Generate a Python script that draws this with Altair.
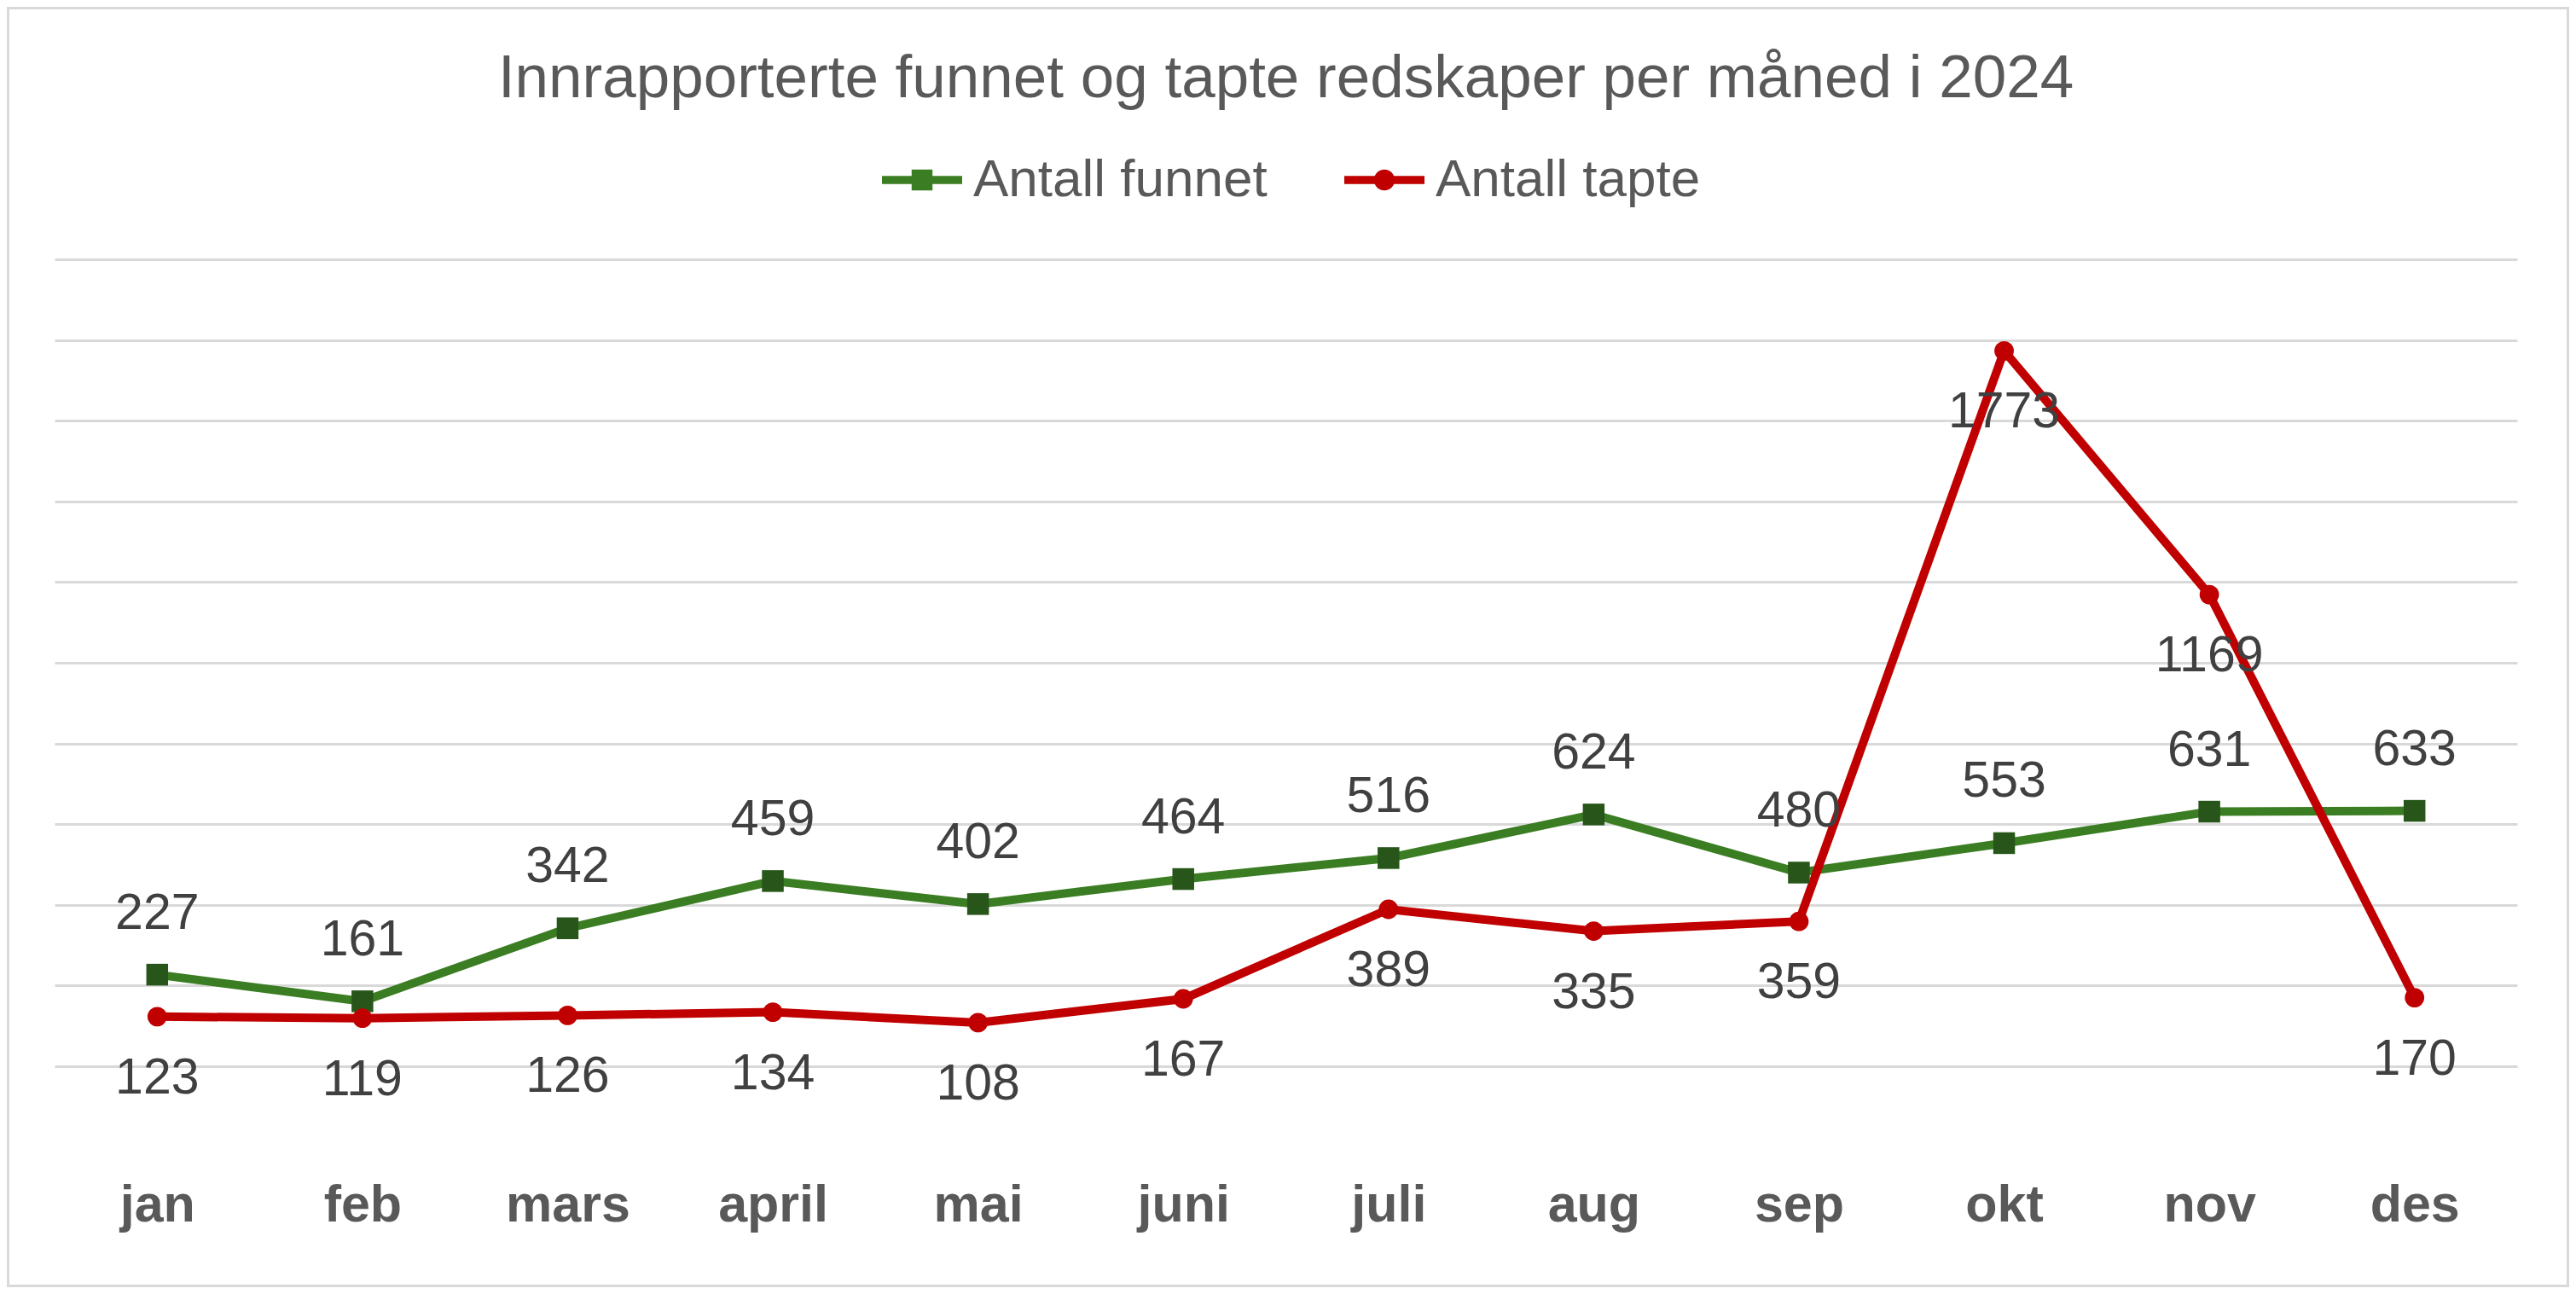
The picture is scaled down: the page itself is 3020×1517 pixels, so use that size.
import altair as alt
import pandas as pd

months = ["jan", "feb", "mars", "april", "mai", "juni", "juli", "aug", "sep", "okt", "nov", "des"]
funnet = [227, 161, 342, 459, 402, 464, 516, 624, 480, 553, 631, 633]
tapte = [123, 119, 126, 134, 108, 167, 389, 335, 359, 1773, 1169, 170]
series_names = ["Antall funnet", "Antall tapte"]
y_ticks = list(range(0, 2001, 200))

GREEN = "#3B7D23"
GREEN_DARK = "#28561A"
RED = "#C00000"
FONT = "Liberation Sans"

df = pd.DataFrame({
    "month": months * 2,
    "value": funnet + tapte,
    "series": [series_names[0]] * 12 + [series_names[1]] * 12,
})

W, H = 2887, 946

x_enc = alt.X(
    "month:O", sort=months,
    scale=alt.Scale(type="point", padding=0.5),
    axis=alt.Axis(title=None, labelAngle=0, labelFont=FONT, labelFontSize=61,
                  labelFontWeight="bold", labelColor="#595959", labelPadding=133,
                  domain=False, ticks=False, grid=False),
)
y_enc = alt.Y(
    "value:Q",
    scale=alt.Scale(domain=[0, 2000], nice=False, zero=True),
    axis=alt.Axis(title=None, labels=False, domain=False, ticks=False,
                  values=y_ticks, grid=True, gridColor="#D9D9D9", gridWidth=3),
)

base = alt.Chart(df)
g = base.transform_filter(alt.datum.series == series_names[0])
r = base.transform_filter(alt.datum.series == series_names[1])

g_line = g.mark_line(color=GREEN, strokeWidth=10).encode(x=x_enc, y=y_enc)
g_pts = g.mark_point(shape="square", filled=True, size=650, color=GREEN_DARK, opacity=1).encode(x=x_enc, y=y_enc)
r_line = r.mark_line(color=RED, strokeWidth=10).encode(x=x_enc, y=y_enc)
r_pts = r.mark_point(shape="circle", filled=True, size=520, color=RED, opacity=1).encode(x=x_enc, y=y_enc)

g_txt = g.mark_text(dy=-72, fontSize=59, font=FONT, color="#404040", baseline="middle").encode(
    x=x_enc, y=y_enc, text="value:Q")
r_txt = r.mark_text(dy=72, fontSize=59, font=FONT, color="#404040", baseline="middle").encode(
    x=x_enc, y=y_enc, text="value:Q")

PATH_G = "M-1,-0.1H1V0.1H-1Z M-0.26,-0.26H0.26V0.26H-0.26Z"
PATH_R = "M-1,-0.1H1V0.1H-1Z M-0.26,0A0.26,0.26 0 1,1 0.26,0A0.26,0.26 0 1,1 -0.26,0Z"

leg = alt.Legend(title=None, orient="none", legendX=970, legendY=-140, direction="horizontal",
                 labelFont=FONT, labelFontSize=62, labelColor="#595959", symbolSize=8836,
                 symbolStrokeWidth=0, columnPadding=90, labelOffset=13, symbolOpacity=1,
                 labelLimit=0)

legend_layer = base.transform_filter("false").mark_point(filled=True, opacity=1).encode(
    x=x_enc, y=y_enc,
    color=alt.Color("series:N", scale=alt.Scale(domain=series_names, range=[GREEN, RED]), legend=leg),
    shape=alt.Shape("series:N", scale=alt.Scale(domain=series_names, range=[PATH_G, PATH_R]), legend=leg),
)

border = alt.Chart(pd.DataFrame({"a": [0]})).mark_rect(
    fill=None, stroke="#D9D9D9", strokeWidth=3
).encode(x=alt.value(-54.5), x2=alt.value(W + 59.5), y=alt.value(-294.5), y2=alt.value(H + 257.5))

chart = alt.layer(
    border, g_line, r_line, g_pts, r_pts, g_txt, r_txt, legend_layer
).properties(
    width=W, height=H,
    title=alt.TitleParams(text="Innrapporterte funnet og tapte redskaper per måned i 2024",
                          fontSize=71, font=FONT, color="#595959", fontWeight="normal",
                          anchor="middle", frame="group", baseline="alphabetic", offset=-177),
    autosize="none",
    padding={"left": 56, "top": 296, "right": 61, "bottom": 259},
    background="white",
).configure_view(stroke=None)

chart.save("out.html", embed_options={"renderer": "svg", "actions": False})
